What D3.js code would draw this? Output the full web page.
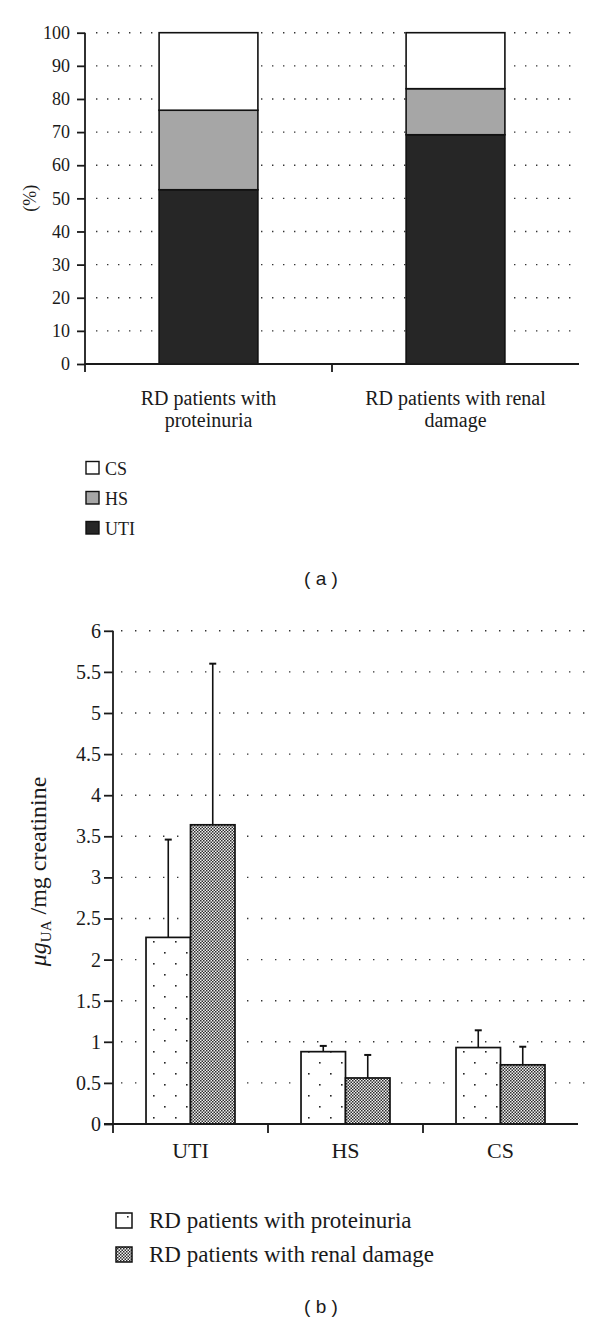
<!DOCTYPE html>
<html>
<head>
<meta charset="utf-8">
<script src="https://cdn.jsdelivr.net/npm/d3@7"></script>
<style>
  html, body { margin: 0; padding: 0; background: #fff; }
  svg { display: block; }
  text { fill: #1a1a1a; }
</style>
</head>
<body>
<svg id="chart" width="600" height="1322"></svg>
<script>
// ---------- Data: panel (a) ----------
const catsA = ["RD patients with proteinuria", "RD patients with renal damage"];
const catLinesA = [["RD patients with", "proteinuria"], ["RD patients with renal", "damage"]];
const seriesA = ["UTI", "HS", "CS"];
const utiA = [52.6, 69.2];
const hsA = [24.0, 13.9];
const csA = [23.4, 16.9];
const ticksA = [0, 10, 20, 30, 40, 50, 60, 70, 80, 90, 100];

// ---------- Data: panel (b) ----------
const catsB = ["UTI", "HS", "CS"];
const groupsB = ["RD patients with proteinuria", "RD patients with renal damage"];
const meanProt = [2.27, 0.88, 0.93];
const sdProt = [1.19, 0.07, 0.21];
const meanRenal = [3.64, 0.56, 0.72];
const sdRenal = [1.96, 0.28, 0.22];
const ticksB = [0, 0.5, 1, 1.5, 2, 2.5, 3, 3.5, 4, 4.5, 5, 5.5, 6];

const SERIF = "'Liberation Serif', 'Times New Roman', Times, serif";
const SANS = "'Liberation Sans', Arial, sans-serif";

const svg = d3.select("#chart");
const defs = svg.append("defs");

// dotted pattern (proteinuria)
const pDot = defs.append("pattern").attr("id", "dots")
  .attr("patternUnits", "userSpaceOnUse").attr("width", 22).attr("height", 22)
  .attr("x", 146).attr("y", 0);
pDot.append("rect").attr("width", 22).attr("height", 22).attr("fill", "#fff");
pDot.append("rect").attr("x", 4).attr("y", 6).attr("width", 1.6).attr("height", 1.6).attr("fill", "#222");
pDot.append("rect").attr("x", 15).attr("y", 17).attr("width", 1.6).attr("height", 1.6).attr("fill", "#222");

// checker pattern (renal damage)
const pChk = defs.append("pattern").attr("id", "checker")
  .attr("patternUnits", "userSpaceOnUse").attr("width", 3).attr("height", 3);
pChk.append("rect").attr("width", 3).attr("height", 3).attr("fill", "#f4f4f4");
pChk.append("rect").attr("x", 0).attr("y", 0).attr("width", 1.5).attr("height", 1.5).attr("fill", "#2a2a2a");
pChk.append("rect").attr("x", 1.5).attr("y", 1.5).attr("width", 1.5).attr("height", 1.5).attr("fill", "#2a2a2a");

// ================= Panel (a) =================
const xA = d3.scaleBand().domain(catsA).range([85, 579]).paddingInner(0.6).paddingOuter(0.3);
const yA = d3.scaleLinear().domain([0, 100]).range([364, 32.7]);
const colorA = d3.scaleOrdinal().domain(seriesA).range(["#262626", "#a6a6a6", "#ffffff"]);

const gA = svg.append("g");

// gridlines
gA.append("g").selectAll("line").data(ticksA.filter(d => d > 0)).join("line")
  .attr("x1", 96).attr("x2", 576)
  .attr("y1", d => yA(d)).attr("y2", d => yA(d))
  .attr("stroke", "#333").attr("stroke-width", 1.4).attr("stroke-dasharray", "1.4,9.6");

// stacked bars
const tableA = catsA.map((c, i) => ({ cat: c, UTI: utiA[i], HS: hsA[i], CS: csA[i] }));
const stackA = d3.stack().keys(seriesA)(tableA);
gA.append("g").selectAll("g").data(stackA).join("g")
  .attr("fill", d => colorA(d.key))
  .selectAll("rect").data(d => d).join("rect")
  .attr("x", d => xA(d.data.cat))
  .attr("width", xA.bandwidth())
  .attr("y", d => yA(d[1]))
  .attr("height", d => yA(d[0]) - yA(d[1]))
  .attr("stroke", "#111").attr("stroke-width", 1.6);

// y axis
const axA = gA.append("g").attr("transform", "translate(85,0)")
  .call(d3.axisLeft(yA).tickValues(ticksA).tickSize(8).tickPadding(7).tickFormat(d => d));
axA.select(".domain").attr("d", `M0,${yA(100)}V372`).attr("stroke", "#1a1a1a").attr("stroke-width", 1.8);
axA.selectAll(".tick line").attr("stroke", "#1a1a1a").attr("stroke-width", 1.8);
axA.selectAll(".tick text").style("font-family", SERIF).style("font-size", "18px").attr("fill", "#1a1a1a");

// x axis
const axXA = gA.append("g").attr("transform", `translate(0,${yA(0)})`);
axXA.append("line").attr("x1", 85).attr("x2", 579).attr("stroke", "#1a1a1a").attr("stroke-width", 1.8);
axXA.selectAll("line.tk").data(catsA.slice(1)).join("line").attr("class", "tk")
  .attr("x1", d => xA(d) - xA.step() * xA.paddingInner() / 2)
  .attr("x2", d => xA(d) - xA.step() * xA.paddingInner() / 2)
  .attr("y1", 0).attr("y2", 8).attr("stroke", "#1a1a1a").attr("stroke-width", 1.8);

// category labels
catsA.forEach((c, i) => {
  const t = gA.append("text").attr("text-anchor", "middle")
    .style("font-family", SERIF).style("font-size", "20px")
    .attr("x", xA(c) + xA.bandwidth() / 2).attr("y", 405);
  catLinesA[i].forEach((ln, j) => {
    t.append("tspan").attr("x", xA(c) + xA.bandwidth() / 2).attr("dy", j === 0 ? 0 : 22).text(ln);
  });
});

// y label
gA.append("text").attr("transform", `translate(36,${(yA(0) + yA(100)) / 2}) rotate(-90)`)
  .attr("text-anchor", "middle").style("font-family", SERIF).style("font-size", "18px").text("(%)");

// legend
const legA = gA.append("g");
["CS", "HS", "UTI"].forEach((s, i) => {
  legA.append("rect").attr("x", 86).attr("y", 461.5 + i * 30).attr("width", 13).attr("height", 12.5)
    .attr("fill", colorA(s)).attr("stroke", "#111").attr("stroke-width", 1.4);
  legA.append("text").attr("x", 105).attr("y", 474.5 + i * 30)
    .style("font-family", SERIF).style("font-size", "18px").text(s);
});

svg.append("text").attr("x", 321).attr("y", 585).attr("text-anchor", "middle")
  .style("font-family", SANS).style("font-size", "19px").style("white-space", "pre")
  .text("( a )");

// ================= Panel (b) =================
const xB = d3.scaleBand().domain(catsB).range([113, 578]).paddingInner(0.426).paddingOuter(0.213);
const xB1 = d3.scaleBand().domain(groupsB).range([0, xB.bandwidth()]);
const yB = d3.scaleLinear().domain([0, 6]).range([1124, 630.8]);
const fillB = d3.scaleOrdinal().domain(groupsB).range(["url(#dots)", "url(#checker)"]);

const gB = svg.append("g");

gB.append("g").selectAll("line").data(ticksB.filter(d => d > 0)).join("line")
  .attr("x1", 121).attr("x2", 592)
  .attr("y1", d => yB(d)).attr("y2", d => yB(d))
  .attr("stroke", "#333").attr("stroke-width", 1.4).attr("stroke-dasharray", "1.4,12.6");

const tableB = catsB.map((c, i) => ({
  cat: c,
  vals: [
    { g: groupsB[0], m: meanProt[i], sd: sdProt[i] },
    { g: groupsB[1], m: meanRenal[i], sd: sdRenal[i] }
  ]
}));

const grp = gB.append("g").selectAll("g").data(tableB).join("g")
  .attr("transform", d => `translate(${xB(d.cat)},0)`);

// error bars (upward only)
grp.selectAll("line.err").data(d => d.vals).join("line").attr("class", "err")
  .attr("x1", d => xB1(d.g) + xB1.bandwidth() / 2).attr("x2", d => xB1(d.g) + xB1.bandwidth() / 2)
  .attr("y1", d => yB(d.m)).attr("y2", d => yB(d.m + d.sd))
  .attr("stroke", "#111").attr("stroke-width", 1.6);
grp.selectAll("line.cap").data(d => d.vals).join("line").attr("class", "cap")
  .attr("x1", d => xB1(d.g) + xB1.bandwidth() / 2 - 3.5).attr("x2", d => xB1(d.g) + xB1.bandwidth() / 2 + 3.5)
  .attr("y1", d => yB(d.m + d.sd)).attr("y2", d => yB(d.m + d.sd))
  .attr("stroke", "#111").attr("stroke-width", 2);

grp.selectAll("rect").data(d => d.vals).join("rect")
  .attr("x", d => xB1(d.g))
  .attr("width", xB1.bandwidth())
  .attr("y", d => yB(d.m))
  .attr("height", d => yB(0) - yB(d.m))
  .attr("fill", d => fillB(d.g))
  .attr("stroke", "#111").attr("stroke-width", 1.7);

const axB = gB.append("g").attr("transform", "translate(113,0)")
  .call(d3.axisLeft(yB).tickValues(ticksB).tickSize(9).tickPadding(3).tickFormat(d => d));
axB.select(".domain").attr("d", `M0,${yB(6)}V1133`).attr("stroke", "#1a1a1a").attr("stroke-width", 1.8);
axB.selectAll(".tick line").attr("stroke", "#1a1a1a").attr("stroke-width", 1.8);
axB.selectAll(".tick text").style("font-family", SERIF).style("font-size", "20px").attr("fill", "#1a1a1a");

const axXB = gB.append("g").attr("transform", `translate(0,${yB(0)})`);
axXB.append("line").attr("x1", 104).attr("x2", 578).attr("stroke", "#1a1a1a").attr("stroke-width", 1.8);
axXB.selectAll("line.tk").data(catsB.slice(1)).join("line").attr("class", "tk")
  .attr("x1", d => xB(d) - xB.step() * xB.paddingInner() / 2)
  .attr("x2", d => xB(d) - xB.step() * xB.paddingInner() / 2)
  .attr("y1", 0).attr("y2", 9).attr("stroke", "#1a1a1a").attr("stroke-width", 1.8);

gB.append("g").selectAll("text").data(catsB).join("text")
  .attr("x", d => xB(d) + xB.bandwidth() / 2).attr("y", 1158)
  .attr("text-anchor", "middle").style("font-family", SERIF).style("font-size", "22px").text(d => d);

// y label
const yl = gB.append("text").attr("transform", `translate(46,${(yB(0) + yB(6)) / 2 - 6}) rotate(-90)`)
  .attr("text-anchor", "middle").style("font-family", SERIF).style("font-size", "24px");
yl.append("tspan").style("font-style", "italic").text("μg");
yl.append("tspan").style("font-size", "15px").attr("dy", 5).text("UA");
yl.append("tspan").attr("dy", -5).text(" /mg creatinine");

// legend b
const legB = gB.append("g");
groupsB.forEach((g, i) => {
  legB.append("rect").attr("x", 116).attr("y", 1213 + i * 34).attr("width", 16).attr("height", 15)
    .attr("fill", i === 0 ? "#fff" : fillB(g)).attr("stroke", "#111").attr("stroke-width", 1.5);
  if (i === 0) legB.append("rect").attr("x", 127).attr("y", 1216).attr("width", 1.6).attr("height", 1.6).attr("fill", "#222");
  legB.append("text").attr("x", 149).attr("y", 1228 + i * 34)
    .style("font-family", SERIF).style("font-size", "23px").text(g);
});

svg.append("text").attr("x", 321).attr("y", 1313).attr("text-anchor", "middle")
  .style("font-family", SANS).style("font-size", "19px").style("white-space", "pre")
  .text("( b )");
</script>
</body>
</html>
